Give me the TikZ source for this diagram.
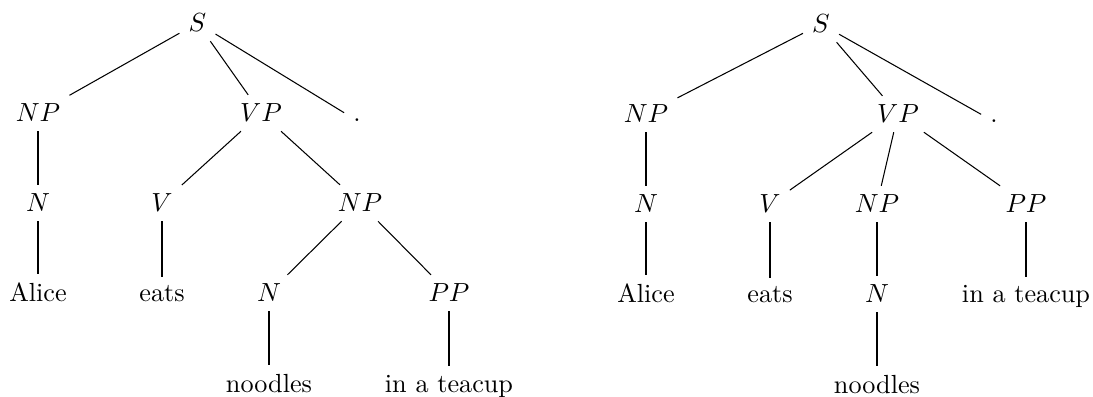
\documentclass[tikz,border=0pt]{standalone}
\begin{document}
\begin{tikzpicture}[x=0.38168pt, y=-0.38168pt,
    cat/.style={anchor=base},
    branch/.style={draw, line width=0.4pt}]
\useasboundingbox (0,0) rectangle (1093,397);

% Tree 1: the PP attaches inside the object NP
\node[cat] (lS)    at (197.5,32) {$S$};
\node[cat] (lNP)   at (38,122)   {$NP$};
\node[cat] (lVP)   at (261,122)  {$VP$};
\node[cat] (lDot)  at (357,122)  {.};
\node[cat] (lN)    at (38,212)   {$N$};
\node[cat] (lV)    at (162,212)  {$V$};
\node[cat] (lNPb)  at (360,212)  {$NP$};
\node[cat] (lAlice) at (38,302)  {Alice};
\node[cat] (lEats) at (162,302)  {eats};
\node[cat] (lNb)   at (269,302)  {$N$};
\node[cat] (lPP)   at (449,302)  {$PP$};
\node[cat] (lNoodles) at (269,392) {noodles};
\node[cat] (lCup)  at (449,392)  {in a teacup};

\path[branch] (lS) -- (lNP);
\path[branch] (lS) -- (lVP);
\path[branch] (lS) -- (lDot);
\path[branch] (lNP) -- (lN);
\path[branch] (lN) -- (lAlice);
\path[branch] (lVP) -- (lV);
\path[branch] (lVP) -- (lNPb);
\path[branch] (lV) -- (lEats);
\path[branch] (lNPb) -- (lNb);
\path[branch] (lNPb) -- (lPP);
\path[branch] (lNb) -- (lNoodles);
\path[branch] (lPP) -- (lCup);

% Tree 2: the PP attaches to the VP
\node[cat] (rS)    at (821,33)   {$S$};
\node[cat] (rNP)   at (646,123)  {$NP$};
\node[cat] (rVP)   at (898,123)  {$VP$};
\node[cat] (rDot)  at (994,123)  {.};
\node[cat] (rN)    at (646,213)  {$N$};
\node[cat] (rV)    at (770,213)  {$V$};
\node[cat] (rNPb)  at (877,213)  {$NP$};
\node[cat] (rPP)   at (1026,213) {$PP$};
\node[cat] (rAlice) at (646,303) {Alice};
\node[cat] (rEats) at (770,303)  {eats};
\node[cat] (rNb)   at (877,303)  {$N$};
\node[cat] (rCup)  at (1026,303) {in a teacup};
\node[cat] (rNoodles) at (877,393) {noodles};

\path[branch] (rS) -- (rNP);
\path[branch] (rS) -- (rVP);
\path[branch] (rS) -- (rDot);
\path[branch] (rNP) -- (rN);
\path[branch] (rN) -- (rAlice);
\path[branch] (rVP) -- (rV);
\path[branch] (rVP) -- (rNPb);
\path[branch] (rVP) -- (rPP);
\path[branch] (rV) -- (rEats);
\path[branch] (rNPb) -- (rNb);
\path[branch] (rNb) -- (rNoodles);
\path[branch] (rPP) -- (rCup);
\end{tikzpicture}
\end{document}
